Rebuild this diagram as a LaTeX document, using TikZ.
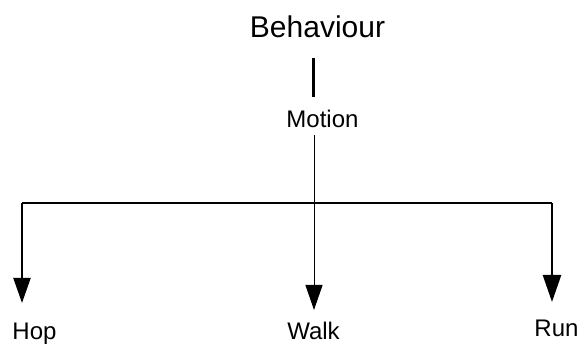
\documentclass[tikz,border=0pt]{standalone}
\usepackage{fontspec}
\setmainfont{Liberation Sans}
\usetikzlibrary{arrows.meta}
\begin{document}
\begin{tikzpicture}[x=1pt,y=-1pt,
  lbl/.style={inner sep=0pt, anchor=base},
  big/.style={font=\fontsize{30}{34}\selectfont},
  mid/.style={font=\fontsize{24}{28}\selectfont},
  arr/.style={-{Triangle[length=25pt,width=17pt]}},
]
\useasboundingbox (0,0) rectangle (584,347);
\fill[white] (0,0) rectangle (584,347);
\node[lbl,big] (beh) at (317.5,38) {Behaviour};
\node[lbl,mid] (mot) at (322.5,128) {Motion};
\node[lbl,mid] (hop) at (34.5,340) {Hop};
\node[lbl,mid] (walk) at (313.5,340) {Walk};
\node[lbl,mid] (run) at (556.5,337) {Run};
\coordinate (b1) at (313,58);
\coordinate (b2) at (313,97);
\coordinate (m1) at (314,135);
\coordinate (jL) at (22,203);
\coordinate (jR) at (552,203);
\coordinate (tH) at (22,303);
\coordinate (tW) at (314,310);
\coordinate (tR) at (552,302);
\draw[line width=3pt] (b1) -- (b2);
\draw[line width=1pt,arr] (m1) -- (tW);
\draw[line width=2pt] (jL) -- (jR);
\draw[line width=2pt,arr] (jL) -- (tH);
\draw[line width=2.5pt,-{Triangle[length=27pt,width=18pt]}] (jR) -- (tR);
\end{tikzpicture}
\end{document}
